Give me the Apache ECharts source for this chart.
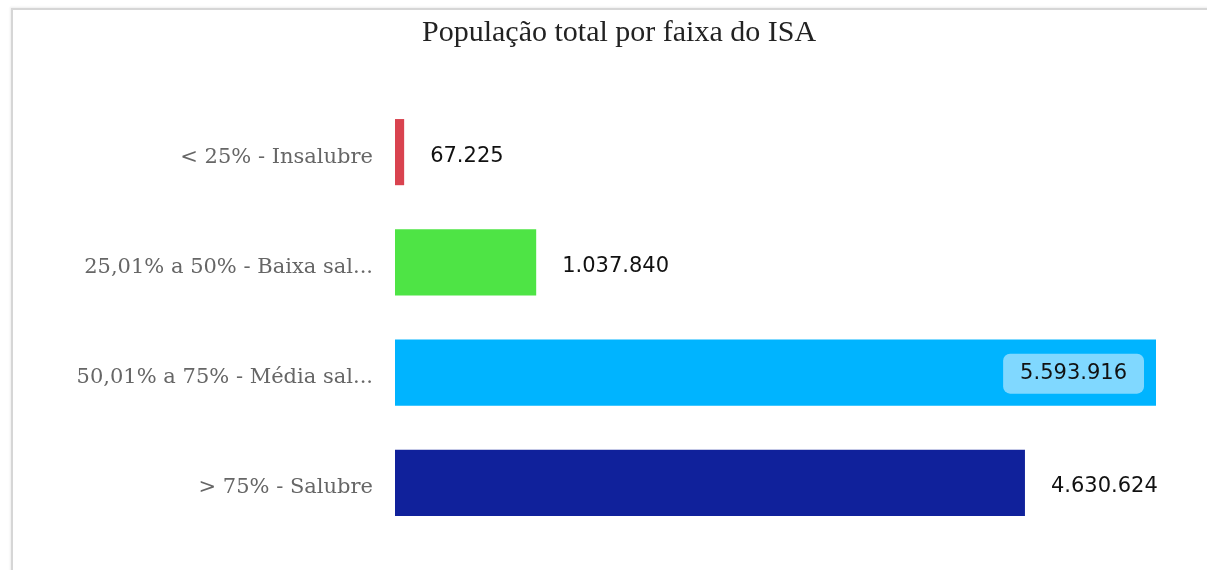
<!DOCTYPE html>
<html>
<head>
<meta charset="utf-8">
<script src="https://cdn.jsdelivr.net/npm/echarts@6/dist/echarts.min.js"></script>
<style>
	html, body { margin: 0; padding: 0; background: #fff; }
	#frame {
		position: absolute; left: 11px; top: 8px; width: 1200px; height: 570px;
		border-left: 2px solid #d6d6d6; border-top: 2px solid #d6d6d6;
		box-shadow: -1px -1px 2px #eee;
	}
	#chart { position: absolute; left: 0; top: 0; width: 1207px; height: 570px; }
</style>
</head>
<body>
<div id="frame"></div>
<div id="chart"></div>
<script>
const categories = [
	"< 25% - Insalubre",
	"25,01% a 50% - Baixa salubridade",
	"50,01% a 75% - Média salubridade",
	"> 75% - Salubre",
]
const values = [67225, 1037840, 5593916, 4630624]
const colors = ["#d9434f", "#4ee445", "#00b4ff", "#10219b"]

const fmt = (v) => String(v).replace(/\B(?=(\d{3})+(?!\d))/g, ".")
const maxValue = Math.max(...values)

const outsideLabel = {
	show: true,
	position: "right",
	distance: 26,
	offset: [0, 4],
	fontFamily: "DejaVu Sans",
	fontSize: 21,
	color: "#111",
	formatter: (p) => fmt(p.value),
}
const insideLabel = {
	show: true,
	position: "insideRight",
	distance: 12,
	offset: [0, 1],
	fontFamily: "DejaVu Sans",
	fontSize: 21,
	color: "#111",
	backgroundColor: "#80d8ff",
	borderRadius: 7,
	padding: [10, 17, 9, 17],
	formatter: (p) => fmt(p.value),
}

const option = {
	backgroundColor: "transparent",
	animation: false,
	title: {
		text: "População total por faixa do ISA",
		left: 417,
		top: 13,
		textStyle: {
			fontFamily: "Liberation Serif",
			fontSize: 30,
			fontWeight: "normal",
			color: "#222",
		},
	},
	grid: {
		left: 395,
		right: 51,
		top: 97,
		bottom: 32,
	},
	xAxis: {
		type: "value",
		min: 0,
		max: maxValue,
		show: false,
	},
	yAxis: {
		type: "category",
		data: categories,
		inverse: true,
		axisLine: { show: false },
		axisTick: { show: false },
		axisLabel: {
			margin: 22,
			formatter: (s) => "{a|" + (s.length > 24 ? s.slice(0, 24) + "..." : s) + "}",
			rich: {
				a: {
					fontFamily: "DejaVu Serif",
					fontSize: 21,
					color: "#666",
					padding: [10, 0, 0, 0],
				},
			},
		},
	},
	series: [
		{
			type: "bar",
			barCategoryGap: "40%",
			data: values.map((v, i) => ({
				value: v,
				itemStyle: { color: colors[i] },
				label: v === maxValue ? insideLabel : outsideLabel,
			})),
		},
	],
}

const chart = echarts.init(document.getElementById("chart"))
chart.setOption(option)
</script>
</body>
</html>
